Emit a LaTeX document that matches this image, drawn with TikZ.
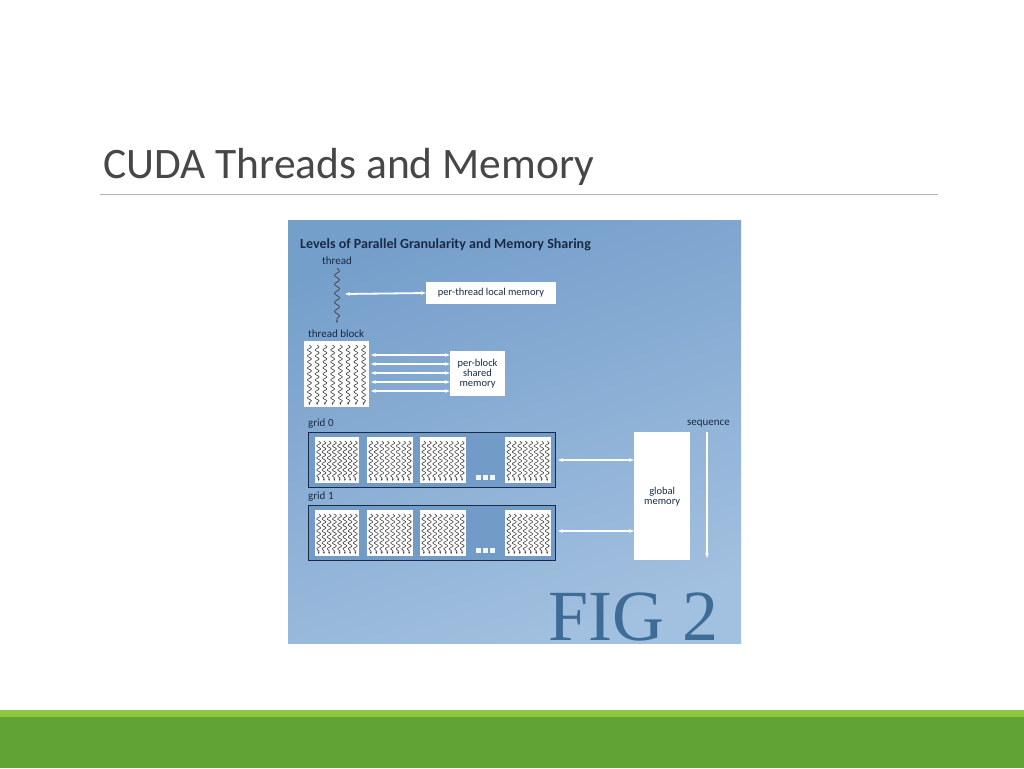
\documentclass[tikz,border=0pt]{standalone}
\usepackage{fontspec}
\setmainfont{Carlito}
\newfontfamily\figfont{Liberation Serif}
\usetikzlibrary{decorations.pathmorphing,arrows.meta}
\definecolor{navy}{HTML}{1A2A44}
\definecolor{figbg}{HTML}{7AA5D2}
\definecolor{lgreen}{HTML}{8DC63F}
\definecolor{dgreen}{HTML}{62A336}
\definecolor{figtxt}{HTML}{3E6C96}
\tikzset{
 wb/.style={fill=white,draw=none,inner sep=1pt,font=\fontsize{10.5}{10}\selectfont,text=navy,align=center},
 lab/.style={font=\fontsize{11}{11}\selectfont,text=navy,anchor=west,inner sep=0},
 warr/.style={white,line width=1.8pt,{Stealth[length=5pt]}-{Stealth[length=5pt]}},
 thr/.style={draw=black!75,line width=0.6pt,decorate,decoration={snake,amplitude=2pt,segment length=6pt,post length=2pt},-{Stealth[length=2.5pt]}},
 gridbox/.style={draw=navy,line width=1pt,fill=figbg!92!navy}
}
\newcommand\tblk[5]{% name x1 x2 y1 y2
 \node[fill=white,inner sep=0,minimum width=#3-#2,minimum height=#5-#4,anchor=north west] (#1) at (#2,#4) {};
 \foreach \i in {0,...,7}{
   \draw[thr] ({#2+(#3-#2)*(\i+0.7)/8.4},{#4+4}) -- ({#2+(#3-#2)*(\i+0.7)/8.4},{#5-2});
 }}
\begin{document}
\begin{tikzpicture}[x=1pt,y=-1pt]
\useasboundingbox[fill=white] (0,0) rectangle (1024,768);
\node[anchor=base west,inner sep=0,font=\fontsize{43.5}{45}\selectfont,text=black!72] (title) at (103,178) {CUDA Threads and Memory};
\draw[black!30,line width=0.8pt] (100,194) -- (938,194);
\fill[lgreen] (0,710) rectangle (1024,718);
\fill[dgreen] (0,717) rectangle (1024,768);
% figure
\shade[top color=figbg!95!navy,bottom color=figbg!70!white,shading angle=20] (288,220) rectangle (741,643);
\node[anchor=base west,inner sep=0,font=\bfseries\fontsize{14}{15}\selectfont,text=navy] (ftitle) at (300,248) {Levels of Parallel Granularity and Memory Sharing};
\node[lab] (tlab) at (322,261) {thread};
\coordinate (t0) at (337,268); \coordinate (t1) at (337,323);
\draw[thr,line width=0.7pt,decoration={snake,amplitude=2.5pt,segment length=9pt,post length=2pt}] (t0) -- (t1);
\node[wb,minimum width=130,minimum height=22] (ptl) at (491,293) {per-thread local memory};
\coordinate (ta) at (345,294);
\draw[warr] (ta) -- (ptl.west);
\node[lab] (tblab) at (308,334) {thread block};
\tblk{blk}{304}{369}{341}{407}
\node[wb,minimum width=55,minimum height=45] (pbs) at (477.5,373.5) {per-block\\shared\\memory};
\foreach \yy in {355,364,373,382,391}{\draw[warr,line width=1.5pt] (371,\yy) -- (pbs.west |- 0,\yy);}
% grids
\node[lab] (g0lab) at (308,424) {grid 0};
\node[gridbox,minimum width=247,minimum height=55,anchor=north west] (g0) at (308,432) {};
\node[lab] (g1lab) at (308,497) {grid 1};
\node[gridbox,minimum width=247,minimum height=55,anchor=north west] (g1) at (308,505) {};
\tblk{a0}{315}{359}{437}{483}
\tblk{b0}{367}{413}{437}{483}
\tblk{c0}{420}{466}{437}{483}
\tblk{d0}{505}{551}{437}{483}
\tblk{a1}{315}{359}{510}{556}
\tblk{b1}{367}{413}{510}{556}
\tblk{c1}{420}{466}{510}{556}
\tblk{d1}{505}{551}{510}{556}
\foreach \yy in {477,550}{\foreach \xx in {478,485,492}{\fill[white!90!figbg] (\xx-2.5,\yy-2.5) rectangle (\xx+2.5,\yy+2.5);}}
\node[wb,minimum width=56,minimum height=128,anchor=north west] (gm) at (634,432) {global\\memory};
\draw[warr] (558,460) -- (gm.west |- 0,460);
\draw[warr] (558,531) -- (gm.west |- 0,531);
\node[lab,anchor=east] (seq) at (730,424) {sequence};
\coordinate (s0) at (707,432); \coordinate (s1) at (707,558);
\draw[white,line width=1.5pt,-{Stealth[length=5pt]}] (s0) -- (s1);
\node[anchor=base west,inner sep=0,font=\figfont\fontsize{72}{72}\selectfont,text=figtxt] (fig) at (548,640) {FIG 2};
\end{tikzpicture}
\end{document}
